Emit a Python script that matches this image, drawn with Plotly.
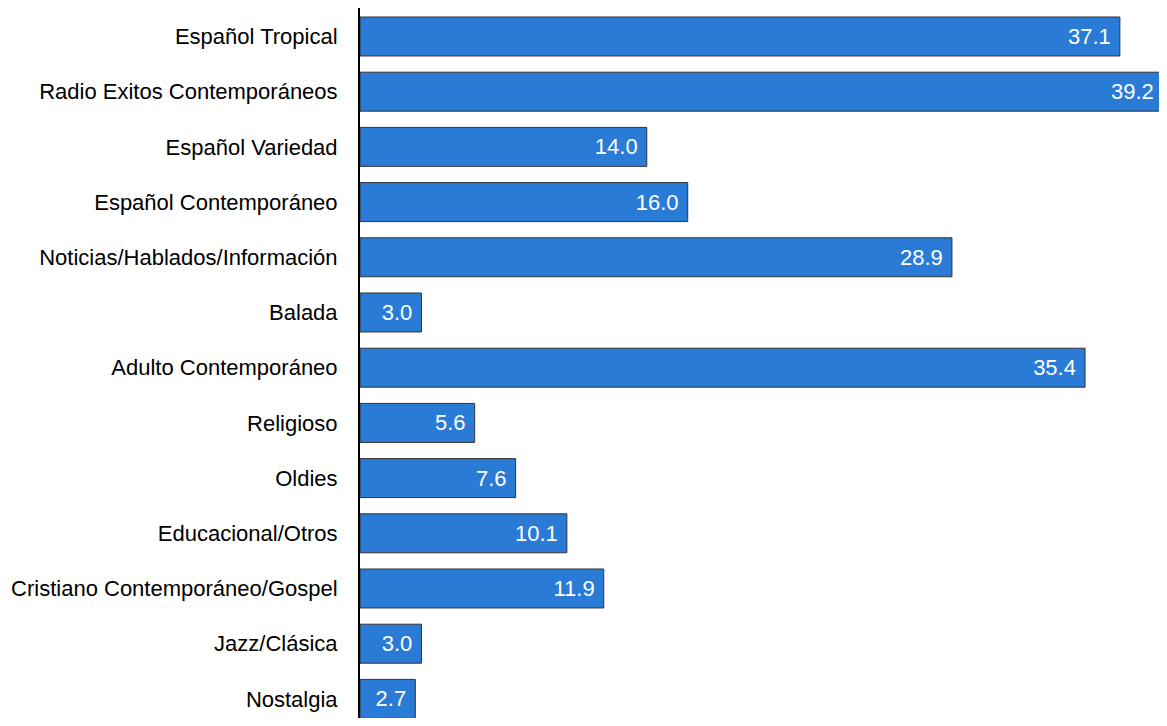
import plotly.graph_objects as go

categories = [
    "Español Tropical",
    "Radio Exitos Contemporáneos",
    "Español Variedad",
    "Español Contemporáneo",
    "Noticias/Hablados/Información",
    "Balada",
    "Adulto Contemporáneo",
    "Religioso",
    "Oldies",
    "Educacional/Otros",
    "Cristiano Contemporáneo/Gospel",
    "Jazz/Clásica",
    "Nostalgia",
]
values = [37.1, 39.2, 14.0, 16.0, 28.9, 3.0, 35.4, 5.6, 7.6, 10.1, 11.9, 3.0, 2.7]

FONT = "Liberation Sans Narrow, Arial Narrow, Liberation Sans, Arial, sans-serif"

fig = go.Figure(
    go.Bar(
        y=categories,
        x=values,
        orientation="h",
        marker=dict(color="#2A7BD6", line=dict(color="#333333", width=1)),
        text=[f"{v:.1f}\u00a0" for v in values],
        textposition="inside",
        insidetextanchor="end",
        constraintext="none",
        textfont=dict(family=FONT, size=22, color="white"),
        hoverinfo="skip",
    )
)

fig.update_layout(
    width=1159,
    height=710,
    margin=dict(l=352, r=0, t=0, b=0, autoexpand=False),
    paper_bgcolor="white",
    plot_bgcolor="white",
    bargap=0.294,
    showlegend=False,
    font=dict(family=FONT, size=22, color="black"),
)
fig.update_yaxes(
    range=[12.346, -0.516],
    showline=True,
    linecolor="black",
    linewidth=2,
    showgrid=False,
    ticks="",
    ticklabelstandoff=16,
    tickfont=dict(family=FONT, size=22, color="black"),
)
fig.update_xaxes(
    range=[0, 39.4],
    showline=False,
    showgrid=False,
    zeroline=False,
    showticklabels=False,
    ticks="",
)

fig.write_html("out.html")
